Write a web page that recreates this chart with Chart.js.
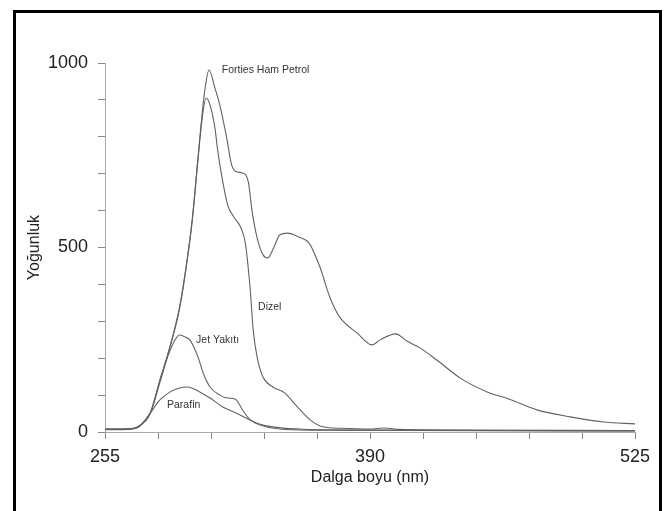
<!DOCTYPE html>
<html>
<head>
<meta charset="utf-8">
<title>Yoğunluk - Dalga boyu</title>
<script src="https://cdn.jsdelivr.net/npm/chart.js@4.4.1/dist/chart.umd.min.js"></script>
<style>
  html, body { margin: 0; padding: 0; background: #fff; }
  #wrap { position: relative; width: 668px; height: 511px; overflow: hidden; }
  #frame { position: absolute; left: 13px; top: 10px; width: 643px; height: 520px; border: 3px solid #000; pointer-events: none; }
</style>
</head>
<body>
<div id="wrap">
  <canvas id="grafico" width="668" height="511"></canvas>
  <div id="frame"></div>
</div>
<script>
// eksen etiketleri
const xLabels = [255, 390, 525];
const yLabels = [0, 500, 1000];

// Forties Ham Petrol
const crudeX = [255, 262, 270, 273, 278, 283, 288, 293, 297, 299.5, 302.5, 304.5, 306, 308, 311, 313.5, 317, 319.5, 322, 325, 328, 330, 332.5, 335.5, 338, 341, 344, 348, 354, 359, 364.5, 369.5, 374.5, 383.5, 391, 395, 403, 409, 415.5, 424, 436, 450, 461, 475, 492, 509, 525];
const crudeY = [8, 8, 11, 19, 51, 141, 230, 339, 474, 580, 751, 864, 932, 981, 932, 886, 797, 724, 705, 702, 678, 596, 526, 480, 472, 500, 534, 539, 528, 512, 447, 366, 312, 268, 236, 249, 266, 246, 228, 195, 146, 108, 89, 60, 41, 27, 22];

// Dizel
const dizelX = [255, 262, 270, 273, 278, 283, 288, 293, 297, 299.5, 302.5, 304.5, 306.5, 308.5, 311, 312.5, 315, 317.5, 321, 324, 326.5, 329, 330.5, 332.5, 335.5, 340.5, 346.5, 353, 359.5, 366, 375, 390, 397, 405, 440, 525];
const dizelY = [6, 6, 9, 17, 50, 140, 228, 335, 470, 575, 745, 850, 905, 886, 824, 759, 678, 615, 580, 556, 512, 385, 276, 203, 149, 122, 106, 68, 33, 14, 10, 8, 11, 7, 5, 4];

// Jet Yakıtı
const jetX = [255, 262, 270, 273, 278, 283, 287, 290.5, 293, 295.5, 298.3, 302.4, 305, 308.5, 313.5, 317.5, 321.5, 325, 329, 334, 344, 360, 525];
const jetY = [7, 7, 10, 18, 50, 135, 205, 248, 263, 258, 249, 203, 160, 122, 100, 92, 89, 60, 33, 19, 8, 5, 3];

// Parafin
const parafinX = [255, 262, 270, 273, 278, 283, 288, 293, 297, 303.5, 308.5, 315, 322, 332.5, 340.5, 354, 380, 525];
const parafinY = [8, 8, 10, 18, 51, 87, 108, 119, 122, 108, 92, 68, 51, 24, 14, 8, 5, 3];

// eğri üzerindeki yazılar
const noteText = ['Forties Ham Petrol', 'Dizel', 'Jet Yakıtı', 'Parafin'];
const noteX = [314.5, 333, 301.4, 286.6];
const noteY = [980, 339, 249, 73];

const pts = (xs, ys) => xs.map((v, i) => ({ x: v, y: ys[i] }));

const curveLabels = {
  id: 'curveLabels',
  afterDatasetsDraw(chart) {
    const { ctx, scales: { x, y } } = chart;
    ctx.save();
    ctx.font = '10.5px "Liberation Sans", Arial, sans-serif';
    ctx.fillStyle = '#333';
    ctx.textBaseline = 'middle';
    noteText.forEach((t, i) => {
      ctx.fillText(t, x.getPixelForValue(noteX[i]), y.getPixelForValue(noteY[i]));
    });
    ctx.restore();
  }
};

const fontFam = '"Liberation Sans", Arial, sans-serif';
const lineStyle = { borderColor: '#626262', borderWidth: 1.1, pointRadius: 0, fill: false, cubicInterpolationMode: 'monotone' };

const ctx = document.getElementById('grafico');
new Chart(ctx, {
  type: 'line',
  data: {
    datasets: [
      { label: 'Forties Ham Petrol', data: pts(crudeX, crudeY), ...lineStyle },
      { label: 'Dizel', data: pts(dizelX, dizelY), ...lineStyle },
      { label: 'Jet Yakıtı', data: pts(jetX, jetY), ...lineStyle },
      { label: 'Parafin', data: pts(parafinX, parafinY), ...lineStyle }
    ]
  },
  options: {
    responsive: false,
    animation: false,
    layout: { padding: { left: 0, top: 63, right: 33, bottom: 0 } },
    plugins: { legend: { display: false }, tooltip: { enabled: false } },
    scales: {
      x: {
        type: 'linear',
        min: 255,
        max: 525,
        afterFit: s => { s.height = 79; },
        border: { color: '#aaa', width: 1 },
        grid: { drawOnChartArea: false, tickLength: 7, color: '#888' },
        ticks: {
          stepSize: 27,
          autoSkip: false,
          maxRotation: 0,
          padding: 7,
          color: '#222',
          font: { size: 18, family: fontFam },
          callback: v => xLabels.includes(v) ? String(v) : ''
        },
        title: { display: true, text: 'Dalga boyu (nm)', color: '#222', font: { size: 16, family: fontFam }, padding: { top: 0, bottom: 24 } }
      },
      y: {
        min: 0,
        max: 1000,
        afterFit: s => { s.width = 105; },
        border: { color: '#aaa', width: 1 },
        grid: { drawOnChartArea: false, tickLength: 7, color: '#888' },
        ticks: {
          stepSize: 100,
          autoSkip: false,
          padding: 10,
          color: '#222',
          font: { size: 18, family: fontFam },
          callback: v => yLabels.includes(v) ? String(v) : ''
        },
        title: { display: true, text: 'Yoğunluk', color: '#222', font: { size: 16, family: fontFam }, padding: { top: 25, bottom: 0 } }
      }
    }
  },
  plugins: [curveLabels]
});
</script>
</body>
</html>
